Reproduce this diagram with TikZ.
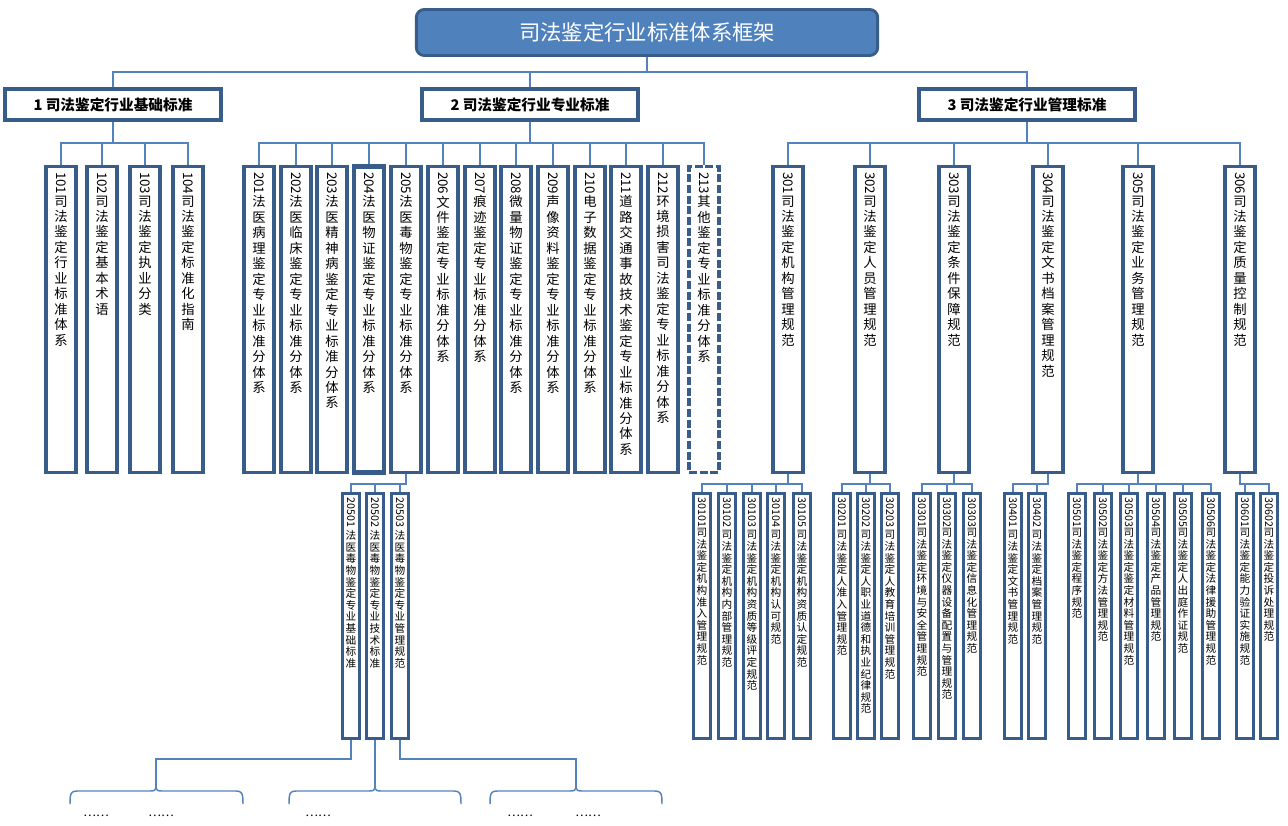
\documentclass[tikz,border=0pt]{standalone}
\usepackage{fontspec}
\usepackage{graphicx}
\usepackage{tikz}
\setmainfont{Noto Sans CJK SC}

\definecolor{boxline}{RGB}{56,93,138}
\definecolor{boxfill}{RGB}{79,129,189}
\definecolor{linkcol}{RGB}{84,130,190}

% one character per line, the number turned sideways on top
\def\vstk#1{\ifx\relax#1\else\par#1\expandafter\vstk\fi}
\newcommand\vcol[2]{\parbox[c][221pt][t]{20pt}{\centering\rotatebox{-90}{#1}\vstk#2\relax}}
\newcommand\vsub[2]{\parbox[c][178pt][t]{13pt}{\centering\rotatebox{-90}{#1}\vstk#2\relax}}

\begin{document}
\begin{tikzpicture}[x=0.75pt, y=-0.75pt,
        titlebox/.style = {draw=boxline, line width=2.2pt, fill=boxfill, rounded corners=6pt, text=white, minimum width=346pt, minimum height=34.5pt, font=\fontsize{16}{19}\selectfont},
        headbox/.style = {draw=boxline, line width=3pt, fill=white, minimum width=162pt, minimum height=23pt, font=\bfseries\fontsize{11}{13}\selectfont},
        colbox/.style = {draw=boxline, line width=2.5pt, inner sep=0pt, minimum width=22.3pt, minimum height=229.5pt, font=\fontsize{10}{11.6}\selectfont},
        subbox/.style = {draw=boxline, line width=1.8pt, inner sep=0pt, minimum width=13pt, minimum height=184pt, font=\fontsize{8}{8.7}\selectfont},
        link/.style = {draw=linkcol, line width=1.1pt},
        dots/.style = {font=\fontsize{9}{10}\selectfont}]
                \useasboundingbox (0,0) rectangle (1288,825);

                \node[titlebox] at (647, 32.5) (T) {司法鉴定行业标准体系框架};

                \node[headbox] at (113, 104.5) (H1) {1 司法鉴定行业基础标准};
                \node[headbox] at (530, 104.5) (H2) {2 司法鉴定行业专业标准};
                \node[headbox] at (1027, 104.5) (H3) {3 司法鉴定行业管理标准};

                \node[colbox] at (61, 319.5) (n101) {\vcol{101}{司法鉴定行业标准体系}};
                \node[colbox] at (102, 319.5) (n102) {\vcol{102}{司法鉴定基本术语}};
                \node[colbox] at (145, 319.5) (n103) {\vcol{103}{司法鉴定执业分类}};
                \node[colbox] at (188, 319.5) (n104) {\vcol{104}{司法鉴定标准化指南}};

                \node[colbox] at (259, 319.5) (n201) {\vcol{201}{法医病理鉴定专业标准分体系}};
                \node[colbox] at (296, 319.5) (n202) {\vcol{202}{法医临床鉴定专业标准分体系}};
                \node[colbox] at (332, 319.5) (n203) {\vcol{203}{法医精神病鉴定专业标准分体系}};
                \node[colbox, line width=3.3pt] at (369, 319.5) (n204) {\vcol{204}{法医物证鉴定专业标准分体系}};
                \node[colbox] at (406, 319.5) (n205) {\vcol{205}{法医毒物鉴定专业标准分体系}};
                \node[colbox] at (443, 319.5) (n206) {\vcol{206}{文件鉴定专业标准分体系}};
                \node[colbox] at (480, 319.5) (n207) {\vcol{207}{痕迹鉴定专业标准分体系}};
                \node[colbox] at (516, 319.5) (n208) {\vcol{208}{微量物证鉴定专业标准分体系}};
                \node[colbox] at (553, 319.5) (n209) {\vcol{209}{声像资料鉴定专业标准分体系}};
                \node[colbox] at (590, 319.5) (n210) {\vcol{210}{电子数据鉴定专业标准分体系}};
                \node[colbox] at (626, 319.5) (n211) {\vcol{211}{道路交通事故技术鉴定专业标准分体系}};
                \node[colbox] at (663, 319.5) (n212) {\vcol{212}{环境损害司法鉴定专业标准分体系}};
                \node[colbox, dash pattern=on 6pt off 2pt] at (704, 319.5) (n213) {\vcol{213}{其他鉴定专业标准分体系}};

                \node[colbox] at (788, 319.5) (n301) {\vcol{301}{司法鉴定机构管理规范}};
                \node[colbox] at (870, 319.5) (n302) {\vcol{302}{司法鉴定人员管理规范}};
                \node[colbox] at (954, 319.5) (n303) {\vcol{303}{司法鉴定条件保障规范}};
                \node[colbox] at (1048, 319.5) (n304) {\vcol{304}{司法鉴定文书档案管理规范}};
                \node[colbox] at (1138, 319.5) (n305) {\vcol{305}{司法鉴定业务管理规范}};
                \node[colbox] at (1240, 319.5) (n306) {\vcol{306}{司法鉴定质量控制规范}};

                \node[subbox] at (351, 616) (n20501) {\vsub{20501 }{法医毒物鉴定专业基础标准}};
                \node[subbox] at (375, 616) (n20502) {\vsub{20502 }{法医毒物鉴定专业技术标准}};
                \node[subbox] at (400, 616) (n20503) {\vsub{20503 }{法医毒物鉴定专业管理规范}};

                \node[subbox] at (702, 616) (n30101) {\vsub{30101}{司法鉴定机构准入管理规范}};
                \node[subbox] at (727, 616) (n30102) {\vsub{30102 }{司法鉴定机构内部管理规范}};
                \node[subbox] at (752, 616) (n30103) {\vsub{30103 }{司法鉴定机构资质等级评定规范}};
                \node[subbox] at (776, 616) (n30104) {\vsub{30104 }{司法鉴定机构认可规范}};
                \node[subbox] at (802, 616) (n30105) {\vsub{30105 }{司法鉴定机构资质认定规范}};
                \node[subbox] at (842, 616) (n30201) {\vsub{30201 }{司法鉴定人准入管理规范}};
                \node[subbox] at (866, 616) (n30202) {\vsub{30202 }{司法鉴定人职业道德和执业纪律规范}};
                \node[subbox] at (890, 616) (n30203) {\vsub{30203 }{司法鉴定人教育培训管理规范}};
                \node[subbox] at (922, 616) (n30301) {\vsub{30301}{司法鉴定环境与安全管理规范}};
                \node[subbox] at (947, 616) (n30302) {\vsub{30302}{司法鉴定仪器设备配置与管理规范}};
                \node[subbox] at (972, 616) (n30303) {\vsub{30303}{司法鉴定信息化管理规范}};
                \node[subbox] at (1013, 616) (n30401) {\vsub{30401 }{司法鉴定文书管理规范}};
                \node[subbox] at (1037, 616) (n30402) {\vsub{30402 }{司法鉴定档案管理规范}};
                \node[subbox] at (1077, 616) (n30501) {\vsub{30501}{司法鉴定程序规范}};
                \node[subbox] at (1103, 616) (n30502) {\vsub{30502}{司法鉴定方法管理规范}};
                \node[subbox] at (1129, 616) (n30503) {\vsub{30503}{司法鉴定鉴定材料管理规范}};
                \node[subbox] at (1156, 616) (n30504) {\vsub{30504}{司法鉴定产品管理规范}};
                \node[subbox] at (1183, 616) (n30505) {\vsub{30505}{司法鉴定人出庭作证规范}};
                \node[subbox] at (1211, 616) (n30506) {\vsub{30506}{司法鉴定法律援助管理规范}};
                \node[subbox] at (1245, 616) (n30601) {\vsub{30601}{司法鉴定能力验证实施规范}};
                \node[subbox] at (1269, 616) (n30602) {\vsub{30602}{司法鉴定投诉处理规范}};

                \node[dots] at (96, 816) (dA1) {……};
                \node[dots] at (161, 816) (dA2) {……};
                \node[dots] at (318, 816) (dB1) {……};
                \node[dots] at (520, 816) (dC1) {……};
                \node[dots] at (588, 816) (dC2) {……};

                \coordinate (brA) at (156, 788);
                \coordinate (brB) at (n20502.south |- 0,788);
                \coordinate (brC) at (576, 788);

                \draw [link] (T.south) -- (T.south |- 0,72) -| (H1.north);
                \draw [link] (T.south) -- (T.south |- 0,72) -| (H2.north);
                \draw [link] (T.south) -- (T.south |- 0,72) -| (H3.north);

                \draw [link] (H1.south) -- (H1.south |- 0,143) -| (n101.north);
                \draw [link] (H1.south) -- (H1.south |- 0,143) -| (n102.north);
                \draw [link] (H1.south) -- (H1.south |- 0,143) -| (n103.north);
                \draw [link] (H1.south) -- (H1.south |- 0,143) -| (n104.north);

                \draw [link] (H2.south) -- (H2.south |- 0,143) -| (n201.north);
                \draw [link] (H2.south) -- (H2.south |- 0,143) -| (n202.north);
                \draw [link] (H2.south) -- (H2.south |- 0,143) -| (n203.north);
                \draw [link] (H2.south) -- (H2.south |- 0,143) -| (n204.north);
                \draw [link] (H2.south) -- (H2.south |- 0,143) -| (n205.north);
                \draw [link] (H2.south) -- (H2.south |- 0,143) -| (n206.north);
                \draw [link] (H2.south) -- (H2.south |- 0,143) -| (n207.north);
                \draw [link] (H2.south) -- (H2.south |- 0,143) -| (n208.north);
                \draw [link] (H2.south) -- (H2.south |- 0,143) -| (n209.north);
                \draw [link] (H2.south) -- (H2.south |- 0,143) -| (n210.north);
                \draw [link] (H2.south) -- (H2.south |- 0,143) -| (n211.north);
                \draw [link] (H2.south) -- (H2.south |- 0,143) -| (n212.north);
                \draw [link] (H2.south) -- (H2.south |- 0,143) -| (n213.north);

                \draw [link] (H3.south) -- (H3.south |- 0,143) -| (n301.north);
                \draw [link] (H3.south) -- (H3.south |- 0,143) -| (n302.north);
                \draw [link] (H3.south) -- (H3.south |- 0,143) -| (n303.north);
                \draw [link] (H3.south) -- (H3.south |- 0,143) -| (n304.north);
                \draw [link] (H3.south) -- (H3.south |- 0,143) -| (n305.north);
                \draw [link] (H3.south) -- (H3.south |- 0,143) -| (n306.north);

                \draw [link] (n205.south) -- (n205.south |- 0,484) -| (n20501.north);
                \draw [link] (n205.south) -- (n205.south |- 0,484) -| (n20502.north);
                \draw [link] (n205.south) -- (n205.south |- 0,484) -| (n20503.north);

                \draw [link] (n301.south) -- (n301.south |- 0,484) -| (n30101.north);
                \draw [link] (n301.south) -- (n301.south |- 0,484) -| (n30102.north);
                \draw [link] (n301.south) -- (n301.south |- 0,484) -| (n30103.north);
                \draw [link] (n301.south) -- (n301.south |- 0,484) -| (n30104.north);
                \draw [link] (n301.south) -- (n301.south |- 0,484) -| (n30105.north);
                \draw [link] (n302.south) -- (n302.south |- 0,484) -| (n30201.north);
                \draw [link] (n302.south) -- (n302.south |- 0,484) -| (n30202.north);
                \draw [link] (n302.south) -- (n302.south |- 0,484) -| (n30203.north);
                \draw [link] (n303.south) -- (n303.south |- 0,484) -| (n30301.north);
                \draw [link] (n303.south) -- (n303.south |- 0,484) -| (n30302.north);
                \draw [link] (n303.south) -- (n303.south |- 0,484) -| (n30303.north);
                \draw [link] (n304.south) -- (n304.south |- 0,484) -| (n30401.north);
                \draw [link] (n304.south) -- (n304.south |- 0,484) -| (n30402.north);
                \draw [link] (n305.south) -- (n305.south |- 0,484) -| (n30501.north);
                \draw [link] (n305.south) -- (n305.south |- 0,484) -| (n30502.north);
                \draw [link] (n305.south) -- (n305.south |- 0,484) -| (n30503.north);
                \draw [link] (n305.south) -- (n305.south |- 0,484) -| (n30504.north);
                \draw [link] (n305.south) -- (n305.south |- 0,484) -| (n30505.north);
                \draw [link] (n305.south) -- (n305.south |- 0,484) -| (n30506.north);
                \draw [link] (n306.south) -- (n306.south |- 0,484) -| (n30601.north);
                \draw [link] (n306.south) -- (n306.south |- 0,484) -| (n30602.north);

                % open ends below 205
                \draw [link] (n20501.south) -- (n20501.south |- 0,759) -| (brA);
                \draw [link] (n20502.south) -- (brB);
                \draw [link] (n20503.south) -- (n20503.south |- 0,759) -| (brC);

                \draw [link] (70,804) .. controls (70,793) and (71,791) .. (77,791) -- (150,791) .. controls (154,791) and (156,790) .. (brA) .. controls (156,790) and (158,791) .. (162,791) -- (236,791) .. controls (242,791) and (243,793) .. (243,804);
                \draw [link] (289,804) .. controls (289,793) and (290,791) .. (296,791) -- (369,791) .. controls (373,791) and (375,790) .. (brB) .. controls (375,790) and (377,791) .. (381,791) -- (454,791) .. controls (460,791) and (461,793) .. (461,804);
                \draw [link] (490,804) .. controls (490,793) and (491,791) .. (497,791) -- (570,791) .. controls (574,791) and (576,790) .. (brC) .. controls (576,790) and (578,791) .. (582,791) -- (655,791) .. controls (661,791) and (662,793) .. (662,804);
\end{tikzpicture}
\end{document}
